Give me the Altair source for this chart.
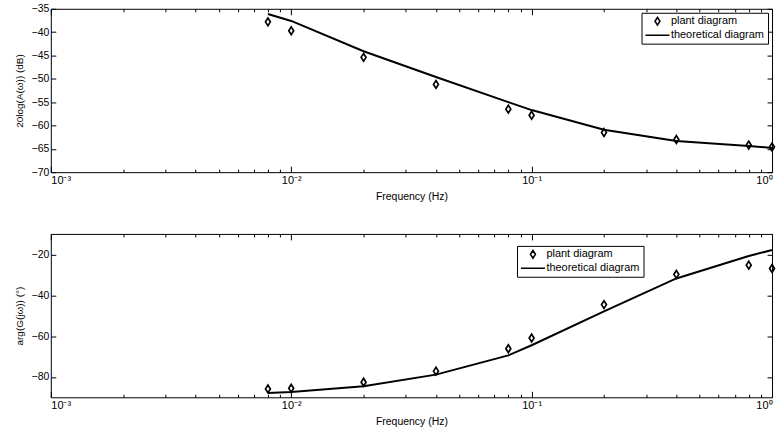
import altair as alt
import pandas as pd

freq = [0.008, 0.01, 0.02, 0.04, 0.08, 0.1, 0.2, 0.4, 0.8, 1.0]
mag_plant = [-37.8, -39.7, -45.4, -51.2, -56.5, -57.8, -61.5, -63.0, -64.2, -64.6]
mag_theory = [-36.1, -37.6, -44.1, -49.6, -55.0, -56.7, -60.9, -63.3, -64.4, -64.8]
phase_plant = [-85.9, -85.6, -82.6, -77.2, -66.2, -61.0, -44.6, -29.8, -25.3, -26.9]
phase_theory = [-87.9, -87.4, -84.6, -78.9, -69.5, -64.5, -47.9, -31.8, -20.8, -17.9]

series = ["plant diagram", "theoretical diagram"]
mag_ticks = [-70, -65, -60, -55, -50, -45, -40, -35]
phase_ticks = [-80, -60, -40, -20]
x_ticks = [float(f"{m}e{e}") for e in (-3, -2, -1) for m in range(1, 10)] + [1.0]

FONT = "Liberation Sans"
DIAMOND = "M0,-1.1L0.7,0L0,1.1L-0.7,0Z"
LINE = "M-3.4,0L3.4,0"

x_label_expr = ("datum.value==0.001?'10⁻³':datum.value==0.01?'10⁻²':"
                "datum.value==0.1?'10⁻¹':datum.value==1?'10⁰':''")
x_tick_expr = "indexof([0.001,0.01,0.1,1], datum.value) >= 0 ? -6 : -3"


def panel(plant, theory, ydom, yticks, ytitle, lx, ly):
    df_p = pd.DataFrame({"f": freq, "v": plant, "s": series[0]})
    df_t = pd.DataFrame({"f": freq, "v": theory})
    xscale = alt.Scale(type="log", domain=[0.001, 1], nice=False)
    yscale = alt.Scale(domain=ydom, nice=False, zero=False)
    line = alt.Chart(df_t).mark_line(color="black", strokeWidth=2).encode(
        x=alt.X("f:Q", scale=xscale,
                axis=alt.Axis(values=x_ticks, labelExpr=x_label_expr,
                              tickSize={"expr": x_tick_expr}, labelPadding=8,
                              labelFontSize=11, titleFontSize=10.5,
                              title="Frequency (Hz)", titlePadding=6)),
        y=alt.Y("v:Q", scale=yscale,
                axis=alt.Axis(values=yticks, tickSize={"expr": "-5"},
                              labelPadding=7, title=ytitle, titlePadding=7,
                              titleFontSize=10)),
    )
    leg = alt.Legend(title=None, orient="none", legendX=lx, legendY=ly, clipHeight=11)
    pts = alt.Chart(df_p).mark_point(filled=False, color="black", strokeWidth=1.7,
                                     opacity=1, size=50).encode(
        x=alt.X("f:Q", scale=xscale,
                axis=alt.Axis(orient="top", values=x_ticks, labels=False, title=None,
                              tickSize={"expr": x_tick_expr})),
        y=alt.Y("v:Q", scale=yscale,
                axis=alt.Axis(orient="right", values=yticks, labels=False, title=None,
                              tickSize={"expr": "-5"})),
        shape=alt.Shape("s:N", scale=alt.Scale(domain=series, range=[DIAMOND, LINE]),
                        legend=leg),
    )
    return (alt.layer(line, pts)
            .resolve_axis(x="independent", y="independent")
            .properties(width=724, height=164))


top = panel(mag_plant, mag_theory, [-70, -35], mag_ticks, "20log(A(ω)) (dB)", 593, 4)
bottom = panel(phase_plant, phase_theory, [-90, -10], phase_ticks, "arg(G(jω)) (°)", 468, 12)

chart = (alt.vconcat(top, bottom, spacing=31)
         .resolve_scale(shape="independent")
         .resolve_legend(shape="independent")
         .properties(padding={"left": 13, "top": 2, "right": 0, "bottom": 0})
         .configure(font=FONT)
         .configure_view(stroke="black", strokeWidth=1)
         .configure_axis(domain=False, grid=False, tickColor="black", labelColor="black",
                         labelFont=FONT, labelFontSize=10.5, titleFont=FONT,
                         titleFontSize=10.5, titleFontWeight="normal", titleColor="black")
         .configure_legend(strokeColor="black", fillColor="white", padding=3,
                           labelFont=FONT, labelFontSize=11, labelColor="black",
                           symbolStrokeColor="black", symbolStrokeWidth=1.6,
                           symbolSize=50, symbolOffset=7.5,
                           labelOffset=8, rowPadding=2, cornerRadius=0))

chart.save("out.html", embed_options={"renderer": "svg", "actions": False})
